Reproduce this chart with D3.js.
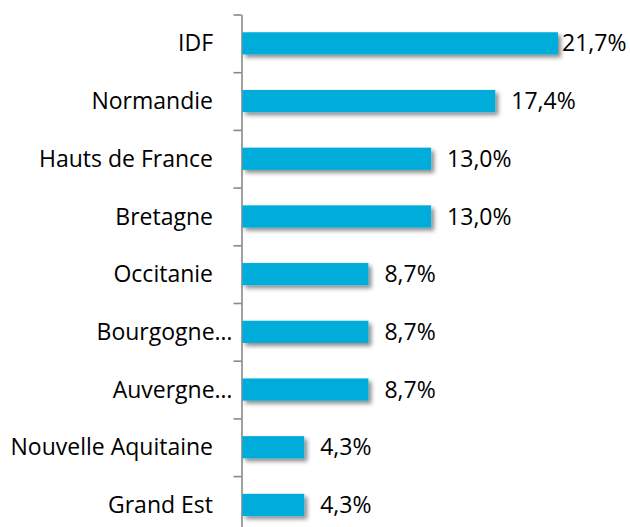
<!DOCTYPE html>
<html>
<head>
<meta charset="utf-8">
<script src="https://cdn.jsdelivr.net/npm/d3@7"></script>
<style>
  body { margin: 0; background: #fff; }
  text { font-family: "Open Sans", Lato, sans-serif; fill: #000; }
</style>
</head>
<body>
<svg id="chart" width="630" height="527"></svg>
<script>
var regions = ["IDF", "Normandie", "Hauts de France", "Bretagne", "Occitanie",
               "Bourgogne…", "Auvergne…", "Nouvelle Aquitaine", "Grand Est"];
var shares = [21.7, 17.4, 13.0, 13.0, 8.7, 8.7, 8.7, 4.3, 4.3];
var shareLabels = ["21,7%", "17,4%", "13,0%", "13,0%", "8,7%", "8,7%", "8,7%", "4,3%", "4,3%"];

var svg = d3.select("#chart");
var x0 = 241.5, y0 = 14.5, step = 57.7;

var defs = svg.append("defs");
var f = defs.append("filter").attr("id", "shadow")
	.attr("x", "-5%").attr("y", "-30%").attr("width", "115%").attr("height", "180%");
f.append("feDropShadow")
	.attr("dx", 3).attr("dy", 3).attr("stdDeviation", 2)
	.attr("flood-color", "#000").attr("flood-opacity", 0.45);

var xScale = d3.scaleLinear().domain([0, 21.7]).range([x0, 558]);
var yScale = d3.scaleBand().domain(regions)
	.range([y0, y0 + step * regions.length])
	.paddingInner(0.615).paddingOuter(0.3075);

// axis with ticks at category boundaries
var edgeScale = d3.scaleLinear().domain([0, regions.length])
	.range([y0, y0 + step * regions.length]);
var yAxis = d3.axisLeft(edgeScale)
	.tickValues(d3.range(regions.length + 1))
	.tickFormat("")
	.tickSize(8).tickSizeOuter(0);
var ax = svg.append("g").attr("transform", "translate(" + x0 + ",0)").call(yAxis);
ax.selectAll("line, path").attr("stroke", "#898989").attr("stroke-width", 1.6);

svg.append("g").selectAll("rect").data(shares).enter().append("rect")
	.attr("x", x0 + 0.8)
	.attr("y", function(d, i){ return yScale(regions[i]); })
	.attr("width", function(d){ return xScale(d) - x0 - 0.8; })
	.attr("height", yScale.bandwidth())
	.attr("fill", "#00ACDA")
	.attr("filter", "url(#shadow)");

svg.append("g").selectAll("text").data(shareLabels).enter().append("text")
	.attr("x", function(d, i){ return Math.min(xScale(shares[i]) + 16, 562); })
	.attr("y", function(d, i){ return yScale(regions[i]) + yScale.bandwidth() / 2; })
	.attr("dy", "0.35em")
	.style("font-size", "23px")
	.text(function(d){ return d; });

svg.append("g").selectAll("text").data(regions).enter().append("text")
	.attr("x", function(d){ return d.slice(-1) == "…" ? x0 - 9 : 213; })
	.attr("y", function(d){ return yScale(d) + yScale.bandwidth() / 2; })
	.attr("dy", "0.35em")
	.attr("text-anchor", "end")
	.style("font-size", "23px")
	.text(function(d){ return d; });
</script>
</body>
</html>
